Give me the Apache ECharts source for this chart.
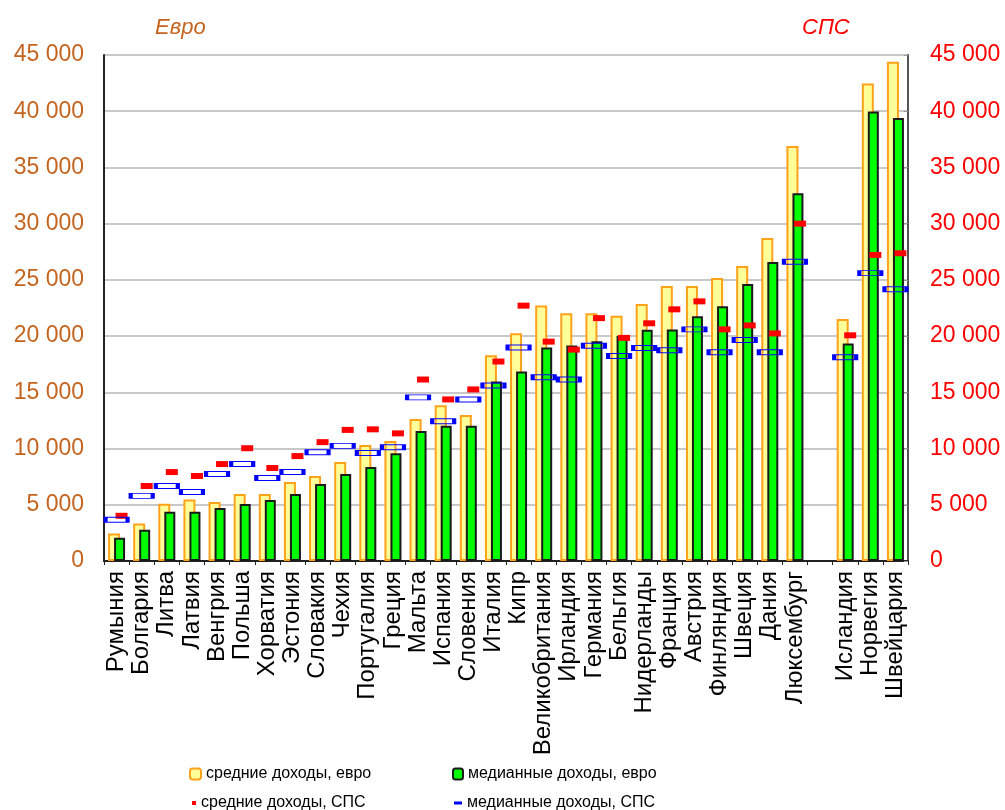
<!DOCTYPE html>
<html>
<head>
<meta charset="utf-8">
<script src="https://cdn.jsdelivr.net/npm/echarts@6/dist/echarts.min.js"></script>
<style>
  html, body { margin: 0; padding: 0; background: #fff; }
  #chart { width: 1005px; height: 810px; }
</style>
</head>
<body>
<div id="chart"></div>
<script>
var countries = [
  "Румыния", "Болгария", "Литва", "Латвия", "Венгрия", "Польша", "Хорватия",
  "Эстония", "Словакия", "Чехия", "Португалия", "Греция", "Мальта", "Испания",
  "Словения", "Италия", "Кипр", "Великобритания", "Ирландия", "Германия",
  "Бельгия", "Нидерланды", "Франция", "Австрия", "Финляндия", "Швеция",
  "Дания", "Люксембург", "", "Исландия", "Норвегия", "Швейцария"
];
// средние доходы, евро
var meanEuro = [
  2450, 3340, 5100, 5460, 5250, 5960, 5960, 7030, 7560, 8800, 10320, 10670,
  12620, 13860, 12980, 18300, 20250, 22730, 22040, 22040, 21800, 22860, 24460,
  24460, 25170, 26230, 28720, 36900, null, 21520, 42460, 44410
];
// медианные доходы, евро
var medianEuro = [
  2070, 2780, 4370, 4370, 4720, 5080, 5430, 5960, 6850, 7740, 8360, 9580,
  11560, 12030, 12030, 15970, 16850, 18980, 19160, 19540, 20030, 20560, 20590,
  21770, 22660, 24630, 26590, 32700, null, 19350, 39970, 39400
];
// средние доходы, СПС
var meanPps = [
  4020, 6670, 7910, 7560, 8620, 10030, 8270, 9330, 10570, 11660, 11710, 11350,
  16140, 14370, 15260, 17740, 22710, 19510, 18800, 21600, 19840, 21140, 22380,
  23090, 20600, 20950, 20240, 30000, null, 20070, 27220, 27370
];
// медианные доходы, СПС
var medianPps = [
  3660, 5790, 6670, 6140, 7740, 8620, 7380, 7910, 9680, 10240, 9610, 10110,
  14550, 12420, 14370, 15610, 18980, 16350, 16140, 19140, 18240, 18950, 18740,
  20600, 18570, 19660, 18570, 26620, null, 18120, 25600, 24160
];
var yMax = 45000;
var yStep = 5000;

var font = "'Liberation Sans', Arial, sans-serif";
var euroColor = "#c5641f";
var ppsColor = "#ff0000";

function fmt(v) {
  return String(v).replace(/\B(?=(\d{3})+(?!\d))/g, " ");
}

var chart = echarts.init(document.getElementById("chart"));

var legendText = { color: "#000", fontSize: 16, fontFamily: font };

var option = {
  backgroundColor: "#fff",
  animation: false,
  title: [
    {
      text: "Евро",
      left: 150,
      top: 12,
      textStyle: { color: euroColor, fontSize: 22, fontStyle: "italic", fontWeight: "normal", fontFamily: font }
    },
    {
      text: "СПС",
      left: 797,
      top: 12,
      textStyle: { color: ppsColor, fontSize: 22, fontStyle: "italic", fontWeight: "normal", fontFamily: font }
    }
  ],
  legend: [
    {
      data: ["средние доходы, евро"],
      left: 184, top: 761, itemWidth: 11, itemHeight: 11,
      textStyle: legendText
    },
    {
      data: ["медианные доходы, евро"],
      left: 447, top: 761, itemWidth: 10, itemHeight: 11,
      textStyle: legendText
    },
    {
      data: [{ name: "средние доходы, СПС", icon: "rect" }],
      left: 187, top: 790, itemWidth: 4, itemHeight: 4,
      textStyle: legendText
    },
    {
      data: [{ name: "медианные доходы, СПС", icon: "rect", itemStyle: { color: "#0000ff", borderWidth: 0 } }],
      left: 449, top: 790, itemWidth: 8, itemHeight: 3,
      textStyle: legendText
    }
  ],
  grid: {
    left: 104,
    right: 97,
    top: 55,
    bottom: 249,
    show: true,
    borderColor: "#9a9a9a",
    borderWidth: 1
  },
  xAxis: {
    type: "category",
    data: countries,
    boundaryGap: true,
    axisLine: { lineStyle: { color: "#222", width: 2 } },
    axisTick: { show: true, length: 4, lineStyle: { color: "#222" } },
    axisLabel: {
      rotate: 90,
      interval: 0,
      margin: 10,
      color: "#000",
      fontSize: 24,
      fontFamily: font
    }
  },
  yAxis: [
    {
      type: "value",
      min: 0,
      max: yMax,
      interval: yStep,
      position: "left",
      axisLine: { show: true, lineStyle: { color: "#222", width: 2 } },
      axisTick: { show: false },
      splitLine: { show: true, lineStyle: { color: "#c8c8c8", width: 2 } },
      axisLabel: {
        margin: 20,
        color: euroColor,
        fontSize: 23,
        fontFamily: font,
        formatter: fmt
      }
    },
    {
      type: "value",
      min: 0,
      max: yMax,
      interval: yStep,
      position: "right",
      axisLine: { show: true, lineStyle: { color: "#555", width: 2 } },
      axisTick: { show: true, length: 4, inside: true, lineStyle: { color: "#999" } },
      splitLine: { show: false },
      axisLabel: {
        margin: 22,
        color: ppsColor,
        fontSize: 23,
        fontFamily: font,
        formatter: fmt
      }
    }
  ],
  series: [
    {
      name: "средние доходы, евро",
      type: "bar",
      barWidth: 12,
      barGap: "-50%",
      data: meanEuro,
      itemStyle: { color: "#ffff99", borderColor: "#ffa21a", borderWidth: 2 },
      z: 2
    },
    {
      name: "медианные доходы, евро",
      type: "bar",
      barWidth: 11,
      barGap: "-50%",
      data: medianEuro,
      itemStyle: { color: "#00ff00", borderColor: "#1a1a1a", borderWidth: 2 },
      z: 3
    },
    {
      name: "средние доходы, СПС",
      type: "scatter",
      data: meanPps,
      symbol: "rect",
      symbolSize: [12, 6],
      symbolOffset: [5, 0],
      itemStyle: { color: "#ff0000", opacity: 1 },
      z: 5
    },
    {
      name: "медианные доходы, СПС",
      type: "scatter",
      data: medianPps,
      symbol: "rect",
      symbolSize: [22, 5],
      itemStyle: { color: "rgba(0,0,0,0)", borderColor: "#0000ff", borderWidth: 2, opacity: 1 },
      z: 6
    }
  ]
};
chart.setOption(option);
</script>
</body>
</html>
